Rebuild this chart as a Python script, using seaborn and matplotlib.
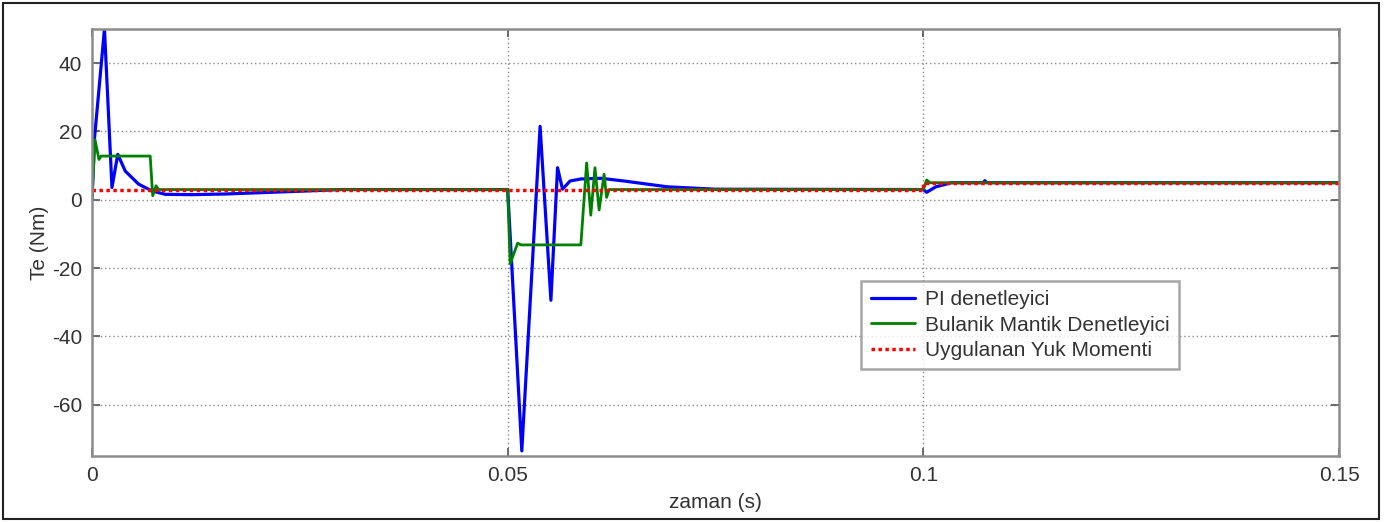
import numpy as np
import pandas as pd
import matplotlib
matplotlib.use("Agg")
import matplotlib.pyplot as plt
from matplotlib.patches import Rectangle
import seaborn as sns

# PI controller torque response
pi_t = [0, 0.0003, 0.0015, 0.0024, 0.0031, 0.0040, 0.0056, 0.0072, 0.0088, 0.012,
        0.016, 0.0216, 0.026, 0.030, 0.050, 0.0517, 0.0539, 0.0552, 0.0560, 0.0566,
        0.0575, 0.0588, 0.0612, 0.064, 0.0692, 0.075, 0.100, 0.1004, 0.1015, 0.1034,
        0.1072, 0.1074, 0.1076, 0.15]
pi_te = [0, 18, 50, 3.6, 13.3, 8.4, 4.6, 2.6, 1.6, 1.5,
         1.7, 2.2, 2.6, 3, 3, -73.5, 21.5, -29.4, 9.4, 3.1,
         5.5, 6.1, 6.3, 5.5, 3.8, 3.1, 3, 2.2, 3.8, 5,
         5, 5.6, 5, 5]

# fuzzy logic controller
fz_t = [0, 0.00036, 0.00084, 0.0011, 0.0070, 0.0073, 0.0077, 0.0080, 0.0500, 0.0503,
        0.0512, 0.0516, 0.0588, 0.0595, 0.0600, 0.0605, 0.0610, 0.0616, 0.0619, 0.0622,
        0.1000, 0.1004, 0.1008, 0.15]
fz_te = [0, 17.6, 11.8, 12.8, 12.8, 1.2, 4.1, 3, 3, -18.7,
         -12.7, -13.2, -13.2, 10.8, -4.5, 9.4, -3, 7.5, 0.7, 3,
         3, 5.8, 5, 5]

# applied load torque
load_t = [0, 0.1, 0.1, 0.15]
load_te = [3, 3, 5, 5]

labels = ["PI denetleyici", "Bulanik Mantik Denetleyici", "Uygulanan Yuk Momenti"]
xticks = [0, 0.05, 0.1, 0.15]
xticklabels = ["0", "0.05", "0.1", "0.15"]
yticks = [-60, -40, -20, 0, 20, 40]

sns.set_style("white")
plt.rcParams['font.family'] = ['Liberation Sans', 'DejaVu Sans']
plt.rcParams['axes.unicode_minus'] = False

fig = plt.figure(figsize=(13.98, 5.22), dpi=100)
ax = fig.add_axes([92/1398, 1-456/522, (1339-92)/1398, (456-29)/522])

df_pi = pd.DataFrame({"t": pi_t, "Te": pi_te})
df_fz = pd.DataFrame({"t": fz_t, "Te": fz_te})
df_ld = pd.DataFrame({"t": load_t, "Te": load_te})

sns.lineplot(data=df_pi, x="t", y="Te", ax=ax, color=(0, 0, 1), lw=2.3,
             estimator=None, sort=False, label=labels[0])
sns.lineplot(data=df_fz, x="t", y="Te", ax=ax, color=(0, 0.5, 0), lw=2.0,
             estimator=None, sort=False, label=labels[1])
sns.lineplot(data=df_ld, x="t", y="Te", ax=ax, color=(1, 0, 0), lw=2.5,
             estimator=None, sort=False, label=labels[2], linestyle=(0, (1.0, 1.0)))

ax.set_xlim(0, 0.15)
ax.set_ylim(-75, 50)
ax.set_xticks(xticks)
ax.set_xticklabels(xticklabels)
ax.set_yticks(yticks)
ax.grid(True, color="#8a8a8a", lw=1.0, linestyle=(0, (1, 2)))
for s in ax.spines.values():
    s.set_color("#8c8c8c")
    s.set_linewidth(1.8)
ax.tick_params(direction="in", length=6, width=1.3, color="#606060",
               labelsize=15, labelcolor="#333333", top=True, right=True,
               left=True, bottom=True, pad=7)
ax.set_xlabel("zaman (s)", fontsize=15, color="#333333", labelpad=6)
ax.set_ylabel("Te (Nm)", fontsize=15, color="#333333", labelpad=2)

leg = ax.legend(loc="upper left", bbox_to_anchor=(0.617, 0.41), fontsize=15,
                frameon=True, fancybox=False, handlelength=2.1, labelspacing=0.3,
                borderpad=0.45, handletextpad=0.5, borderaxespad=0)
leg.get_frame().set_edgecolor("#909090")
leg.get_frame().set_linewidth(1.8)
for txt in leg.get_texts():
    txt.set_color("#333333")

fig.patches.append(Rectangle((3/1398, 3/522), (1379-3)/1398, (519-3)/522,
                             transform=fig.transFigure, fill=False,
                             edgecolor="#222222", lw=1.5))

fig.savefig("out.png", dpi=100)
